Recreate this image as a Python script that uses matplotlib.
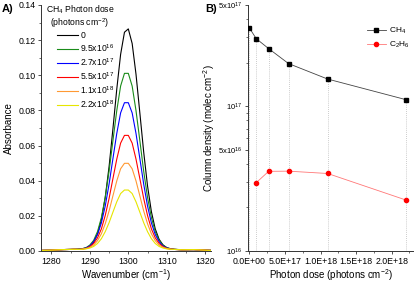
"""Two-panel figure: CH4 band absorbance vs photon dose (A) and column densities (B)."""

import numpy as np
import matplotlib
matplotlib.use("Agg")
import matplotlib.pyplot as plt
from matplotlib.ticker import FixedLocator, MultipleLocator, FuncFormatter, NullFormatter

plt.rcParams["font.family"] = ["Liberation Sans", "DejaVu Sans"]
plt.rcParams["mathtext.fontset"] = "custom"
plt.rcParams["mathtext.rm"] = "Liberation Sans"
plt.rcParams["mathtext.it"] = "Liberation Sans:italic"

# ---- panel A: spectra (absorbance) ----
wavenumber = [1277, 1280, 1283, 1285, 1286,
              1287, 1288, 1289, 1290, 1291, 1292, 1293, 1294, 1295, 1296, 1297, 1298, 1299,
              1300, 1301, 1302, 1303, 1304, 1305, 1306, 1307, 1308, 1309, 1310, 1311, 1312,
              1314, 1317, 1319, 1322]

abs_0 = [0.0003, 0.0005, 0.0008, 0.0009, 0.0010,
         0.0011, 0.0013, 0.0017, 0.0027, 0.0051, 0.0098, 0.0179, 0.0305, 0.0480, 0.0695, 0.0921,
         0.1119, 0.1245, 0.1264, 0.1181, 0.1006, 0.0786, 0.0563, 0.0370, 0.0224, 0.0126, 0.0067,
         0.0035, 0.0019, 0.0012, 0.0009, 0.0007, 0.0008, 0.0006, 0.0003]
abs_95e16 = [0.0003, 0.0005, 0.0008, 0.0009, 0.0010,
             0.0010, 0.0013, 0.0019, 0.0034, 0.0061, 0.0111, 0.0190, 0.0305, 0.0454, 0.0628, 0.0799,
             0.0939, 0.1011, 0.1011, 0.0939, 0.0799, 0.0628, 0.0454, 0.0305, 0.0190, 0.0111, 0.0061,
             0.0034, 0.0019, 0.0013, 0.0010, 0.0007, 0.0008, 0.0006, 0.0003]
abs_27e17 = [0.0003, 0.0005, 0.0008, 0.0009, 0.0010,
             0.0009, 0.0012, 0.0017, 0.0029, 0.0053, 0.0094, 0.0160, 0.0256, 0.0381, 0.0526, 0.0669,
             0.0786, 0.0844, 0.0844, 0.0786, 0.0669, 0.0526, 0.0381, 0.0256, 0.0160, 0.0094, 0.0053,
             0.0029, 0.0017, 0.0012, 0.0009, 0.0007, 0.0008, 0.0006, 0.0003]
abs_55e17 = [0.0003, 0.0005, 0.0008, 0.0009, 0.0010,
             0.0009, 0.0011, 0.0015, 0.0025, 0.0043, 0.0075, 0.0126, 0.0202, 0.0299, 0.0412, 0.0523,
             0.0614, 0.0658, 0.0658, 0.0614, 0.0523, 0.0412, 0.0299, 0.0202, 0.0126, 0.0075, 0.0043,
             0.0025, 0.0015, 0.0011, 0.0009, 0.0007, 0.0008, 0.0006, 0.0003]
abs_11e18 = [0.0003, 0.0005, 0.0008, 0.0009, 0.0010,
             0.0009, 0.0010, 0.0014, 0.0021, 0.0034, 0.0059, 0.0098, 0.0155, 0.0228, 0.0314, 0.0399,
             0.0468, 0.0499, 0.0499, 0.0468, 0.0399, 0.0314, 0.0228, 0.0155, 0.0098, 0.0059, 0.0034,
             0.0021, 0.0014, 0.0010, 0.0009, 0.0007, 0.0008, 0.0006, 0.0003]
abs_22e18 = [0.0003, 0.0005, 0.0008, 0.0009, 0.0010,
             0.0009, 0.0010, 0.0012, 0.0017, 0.0026, 0.0043, 0.0070, 0.0110, 0.0161, 0.0221, 0.0280,
             0.0327, 0.0347, 0.0347, 0.0327, 0.0280, 0.0221, 0.0161, 0.0110, 0.0070, 0.0043, 0.0026,
             0.0017, 0.0012, 0.0010, 0.0009, 0.0007, 0.0008, 0.0006, 0.0003]

spectra = [abs_0, abs_95e16, abs_27e17, abs_55e17, abs_11e18, abs_22e18]
dose_labels = ["0", r"9.5x10$^{16}$", r"2.7x10$^{17}$", r"5.5x10$^{17}$",
               r"1.1x10$^{18}$", r"2.2x10$^{18}$"]
spec_colors = ["#000000", "#1a8c1a", "#0000ff", "#ff0000", "#ff9933", "#e6e600"]

# ---- panel B: column densities ----
dose = [0.0, 9.5e16, 2.7e17, 5.5e17, 1.1e18, 2.2e18]
n_ch4 = [3.47e17, 2.93e17, 2.50e17, 1.97e17, 1.54e17, 1.11e17]
dose_c2h6 = [9.5e16, 2.7e17, 5.5e17, 1.1e18, 2.2e18]
n_c2h6 = [2.96e16, 3.55e16, 3.56e16, 3.43e16, 2.25e16]

fs_tick = 6.3
fs_lab = 7

fig = plt.figure(figsize=(4.15, 2.83), dpi=100)
axA = fig.add_axes([41 / 415, 32 / 283, 170 / 415, 246 / 283])
axB = fig.add_axes([248 / 415, 32 / 283, 165 / 415, 246 / 283])

for ax in (axA, axB):
    for s in ("top", "right"):
        ax.spines[s].set_visible(False)
    for s in ("left", "bottom"):
        ax.spines[s].set_linewidth(0.7)
        ax.spines[s].set_color("#333333")
    ax.tick_params(which="major", direction="out", length=2.5, width=0.6,
                   labelsize=fs_tick, pad=1.5, colors="#333333", labelcolor="black")
    ax.tick_params(which="minor", direction="out", length=1.5, width=0.5, colors="#333333")

# panel A
for vals, lab, col in zip(spectra, dose_labels, spec_colors):
    axA.plot(wavenumber, vals, color=col, lw=0.8, label=lab)
axA.set_xlim(1277.3, 1321.5)
axA.set_ylim(0, 0.14)
axA.xaxis.set_major_locator(MultipleLocator(10))
axA.xaxis.set_minor_locator(MultipleLocator(5))
axA.yaxis.set_major_locator(MultipleLocator(0.02))
axA.yaxis.set_minor_locator(MultipleLocator(0.01))
axA.yaxis.set_major_formatter(FuncFormatter(lambda v, p: f"{v:.2f}"))
axA.set_xlabel(r"Wavenumber (cm$^{-1}$)", fontsize=fs_lab, labelpad=1)
axA.set_ylabel("Absorbance", fontsize=fs_lab, labelpad=3)
axA.legend(loc="upper left", bbox_to_anchor=(16 / 170, 0.895), frameon=False,
           fontsize=6.2, handlelength=2.4, handletextpad=0.3, labelspacing=0.27,
           borderaxespad=0, borderpad=0)
fig.text(80 / 415, 1 - 10 / 283, "CH$_4$ Photon dose", fontsize=6.2, ha="center", va="center")
fig.text(80 / 415, 1 - 23.5 / 283, "(photons cm$^{-2}$)", fontsize=6.2, ha="center", va="center")

# panel B
for x, y in zip(dose, n_ch4):
    axB.plot([x, x], [1e16, y], color="#bbbbbb", lw=0.6, ls=(0, (1, 1.5)), zorder=1)
axB.plot(dose, n_ch4, color="#444444", lw=0.6, marker="s", ms=3, mfc="black",
         mec="black", label="CH$_4$", zorder=3)
axB.plot(dose_c2h6, n_c2h6, color="#ff7777", lw=0.6, marker="o", ms=3, mfc="#ff0000",
         mec="#ff0000", label="C$_2$H$_6$", zorder=3)
axB.set_yscale("log")
axB.set_ylim(1e16, 5e17)
axB.set_xlim(-2e16, 2.3e18)
yt = [1e16, 5e16, 1e17, 5e17]
ytl = [r"10$^{16}$", r"5x10$^{16}$", r"10$^{17}$", r"5x10$^{17}$"]
axB.yaxis.set_major_locator(FixedLocator(yt))
axB.yaxis.set_major_formatter(FuncFormatter(lambda v, p: ytl[yt.index(v)] if v in yt else ""))
minor = [m * d for d in (1e16, 1e17) for m in (2, 3, 4, 6, 7, 8, 9)]
axB.yaxis.set_minor_locator(FixedLocator([v for v in minor if v < 5e17]))
axB.yaxis.set_minor_formatter(NullFormatter())
axB.tick_params(axis="y", which="major", labelsize=5.5)
axB.xaxis.set_major_locator(MultipleLocator(5e17))
axB.xaxis.set_minor_locator(MultipleLocator(2.5e17))
axB.xaxis.set_major_formatter(FuncFormatter(lambda v, p: f"{v:.1E}"))
axB.set_xlabel(r"Photon dose (photons cm$^{-2}$)", fontsize=fs_lab, labelpad=1)
axB.set_ylabel(r"Column density (molec cm$^{-2}$)", fontsize=fs_lab, labelpad=0.5)
axB.legend(loc="upper right", bbox_to_anchor=(1.0, 0.93), frameon=False, fontsize=6,
           handlelength=2.2, handletextpad=0.4, labelspacing=0.5, borderaxespad=0)

fig.text(2 / 415, 1 - 9 / 283, "A)", fontsize=8, fontweight="bold", va="center")
fig.text(205 / 415, 1 - 9 / 283, "B)", fontsize=8, fontweight="bold", va="center")

fig.savefig("out.png", dpi=100)
